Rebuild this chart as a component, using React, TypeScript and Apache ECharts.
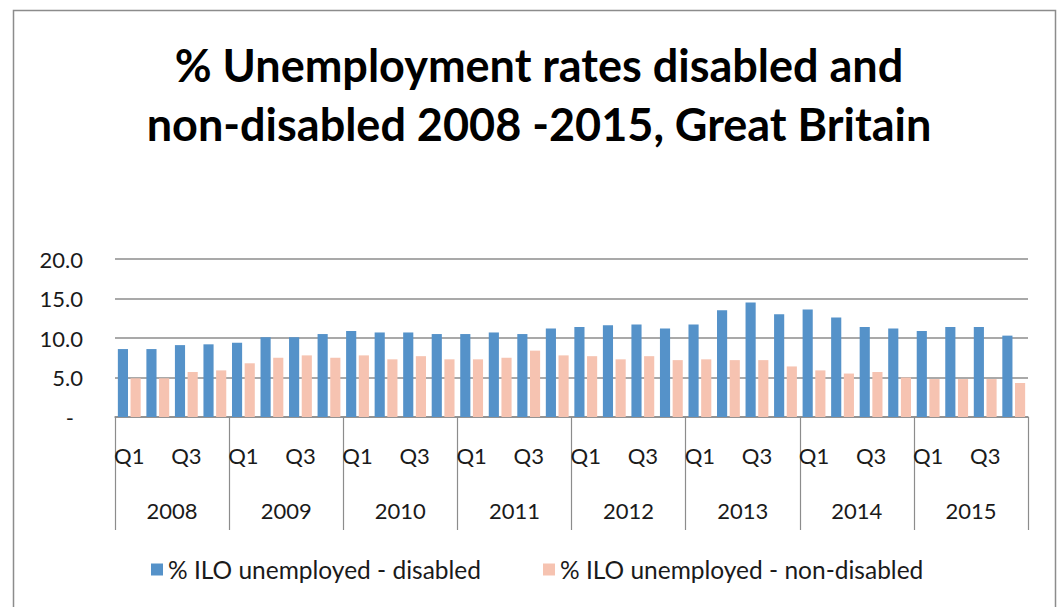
import React, { useEffect, useRef } from "react";
import * as echarts from "echarts";

const years = ["2008", "2009", "2010", "2011", "2012", "2013", "2014", "2015"];
const quarters = ["Q1", "Q2", "Q3", "Q4"];
const disabled = [8.6, 8.6, 9.1, 9.2, 9.4, 10.1, 10.1, 10.5, 10.9, 10.7, 10.7, 10.5, 10.5, 10.7, 10.5, 11.2, 11.4, 11.6, 11.7, 11.2, 11.7, 13.5, 14.5, 13.0, 13.6, 12.6, 11.4, 11.2, 10.9, 11.4, 11.4, 10.3];
const nonDisabled = [4.9, 4.9, 5.7, 5.9, 6.8, 7.5, 7.8, 7.5, 7.8, 7.3, 7.7, 7.3, 7.3, 7.5, 8.4, 7.8, 7.7, 7.3, 7.7, 7.2, 7.3, 7.2, 7.2, 6.4, 5.9, 5.5, 5.7, 5.0, 4.8, 4.8, 4.8, 4.3];
const seriesNames = ["% ILO unemployed - disabled", "% ILO unemployed - non-disabled"];
const titleText = "% Unemployment rates disabled and\nnon-disabled 2008 -2015, Great Britain";

const FONT = "Lato, 'Open Sans', sans-serif";

export default function App() {
  const ref = useRef<HTMLDivElement>(null);
  useEffect(() => {
    if (!ref.current) return;
    const chart = echarts.init(ref.current, undefined, { renderer: "svg" });
    const quarterLabels: string[] = [];
    years.forEach((y) => quarters.forEach((q) => quarterLabels.push(q)));
    const gridColor = "#8c8c8c";
    chart.setOption({
      animation: false,
      backgroundColor: "#ffffff",
      textStyle: { fontFamily: FONT },
      title: {
        text: titleText,
        left: 534,
        textAlign: "center",
        top: 30,
        textStyle: { fontFamily: FONT, fontSize: 45, fontWeight: "bold", color: "#000", lineHeight: 59 },
      },
      graphic: [
        {
          type: "rect",
          shape: { x: 13.5, y: 10.5, width: 1042, height: 700 },
          style: { fill: "none", stroke: gridColor, lineWidth: 1.5 },
          silent: true,
        },
      ],
      legend: {
        data: seriesNames,
        left: 151,
        top: 557,
        padding: 0,
        itemWidth: 12,
        itemHeight: 12,
        itemGap: 62,
        icon: "rect",
        textStyle: { fontFamily: FONT, fontSize: 24.5, color: "#1a1a1a" },
      },
      grid: { left: 115, right: 30, top: 259, bottom: 190, containLabel: false },
      xAxis: [
        {
          type: "category",
          data: quarterLabels,
          axisLine: { lineStyle: { color: gridColor, width: 1.5 } },
          axisTick: { show: false },
          axisLabel: { interval: 1, margin: 27, fontSize: 22, color: "#1a1a1a", fontFamily: FONT },
        },
        {
          type: "category",
          data: years,
          position: "bottom",
          axisLine: { show: false },
          axisTick: { show: true, length: 113, interval: 0, lineStyle: { color: gridColor, width: 1.2 } },
          axisLabel: { interval: 0, margin: 82, fontSize: 22, color: "#1a1a1a", fontFamily: FONT },
        },
      ],
      yAxis: {
        type: "value",
        min: 0,
        max: 20,
        interval: 5,
        axisLine: { show: false },
        axisTick: { show: false },
        splitLine: { lineStyle: { color: gridColor, width: 1.5 } },
        axisLabel: {
          margin: 32,
          fontSize: 22,
          color: "#1a1a1a",
          fontFamily: FONT,
          formatter: (v: number) => (v === 0 ? "{z|-}" : v.toFixed(1)),
          rich: { z: { fontSize: 22, fontFamily: FONT, color: "#1a1a1a", padding: [0, 9, 0, 0] } },
        },
      },
      series: [
        {
          name: seriesNames[0],
          type: "bar",
          xAxisIndex: 0,
          data: disabled,
          barGap: "25%",
          barCategoryGap: "20%",
          itemStyle: { color: "#5592C9" },
        },
        {
          name: seriesNames[1],
          type: "bar",
          xAxisIndex: 0,
          data: nonDisabled,
          itemStyle: { color: "#F6C3B1" },
        },
      ],
    });
    return () => chart.dispose();
  }, []);
  return <div ref={ref} style={{ position: "absolute", left: 0, top: 0, width: 1058, height: 607 }} />;
}
